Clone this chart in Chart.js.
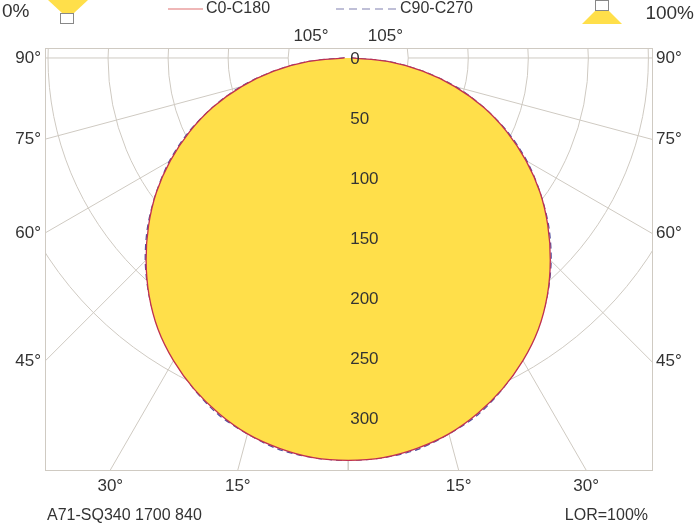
<!DOCTYPE html>
<html><head><meta charset="utf-8">
<script src="https://cdn.jsdelivr.net/npm/chart.js@4"></script>
<style>html,body{margin:0;padding:0;background:#fff}</style>
</head><body><canvas id="c" width="697" height="532"></canvas>
<script>
const angles=[0,5,10,15,20,25,30,35,40,45,50,55,60,65,70,75,80,85,90];
const c0c180=[335,334,330,324,315,304,291,276,258,238,217,195,171,146,120,92,63,33,3];
const c90c270=[335,334,331,324,316,304,290,275,258,239,218,195,172,147,120,93,63,33,3];
const rings=[0,50,100,150,200,250,300];
const rayAngles=[0,15,30,45,60,75,90,105];
const edgeLabelsLeft=[90,75,60,45];
const edgeLabelsBottom=[30,15];

function toXY(vals){
  const pts=[];
  for(let i=angles.length-1;i>=0;i--){const a=angles[i]*Math.PI/180;pts.push({x:-vals[i]*Math.sin(a),y:-vals[i]*Math.cos(a)});}
  for(let i=1;i<angles.length;i++){const a=angles[i]*Math.PI/180;pts.push({x:vals[i]*Math.sin(a),y:-vals[i]*Math.cos(a)});}
  return pts;
}
const F='Arial, "Liberation Sans", sans-serif';
const grid={id:'grid',beforeDatasetsDraw(ch){
  const {ctx,chartArea:ca,scales:{x,y}}=ch;
  const cx=x.getPixelForValue(0),cy=y.getPixelForValue(0),k=x.getPixelForValue(1)-cx;
  ctx.save();ctx.beginPath();ctx.rect(ca.left,ca.top,ca.right-ca.left,ca.bottom-ca.top);ctx.clip();
  ctx.strokeStyle='#cfcac2';ctx.lineWidth=1;
  rings.forEach(r=>{if(r>0){ctx.beginPath();ctx.arc(cx,cy,r*k,0,Math.PI*2);ctx.stroke();}});
  rayAngles.forEach(d=>{[1,-1].forEach(s=>{const a=d*Math.PI/180;ctx.beginPath();
    ctx.moveTo(cx+s*50*k*Math.sin(a),cy+50*k*Math.cos(a));ctx.lineTo(cx+s*2000*Math.sin(a),cy+2000*Math.cos(a));ctx.stroke();});});
  ctx.restore();
  ctx.strokeStyle='#cfcac2';ctx.strokeRect(ca.left+0.5,ca.top+0.5,ca.right-ca.left,ca.bottom-ca.top);
}};
const labels={id:'labels',afterDatasetsDraw(ch){
  const {ctx,chartArea:ca,scales:{x,y}}=ch;
  const cx=x.getPixelForValue(0),cy=y.getPixelForValue(0),k=x.getPixelForValue(1)-cx;
  ctx.save();ctx.font='17px '+F;ctx.fillStyle='#333';ctx.textBaseline='middle';
  rings.forEach(r=>{ctx.textAlign='left';ctx.fillText(String(r),cx+2,cy+r*k+1);});
  edgeLabelsLeft.forEach(d=>{const a=d*Math.PI/180;const dy=d==90?0:(cx-ca.left)/Math.tan(a);
    ctx.textAlign='right';ctx.fillText(d+'°',ca.left-4,cy+dy);ctx.textAlign='left';ctx.fillText(d+'°',ca.right+4,cy+dy);});
  edgeLabelsBottom.forEach(d=>{const dx=(ca.bottom-cy)*Math.tan(d*Math.PI/180);ctx.textAlign='center';
    ctx.fillText(d+'°',cx-dx,ca.bottom+16);ctx.fillText(d+'°',cx+dx,ca.bottom+16);});
  const dx=(cy-ca.top)/Math.tan(15*Math.PI/180);ctx.textAlign='center';
  ctx.fillText('105°',cx-dx,ca.top-12);ctx.fillText('105°',cx+dx,ca.top-12);
  ctx.font='19px '+F;ctx.textAlign='left';ctx.fillText('0%',2,12);ctx.textAlign='right';ctx.fillText('100%',694,14);
  ctx.font='16px '+F;ctx.textAlign='left';ctx.fillText('A71-SQ340 1700 840',47,516);ctx.textAlign='right';ctx.fillText('LOR=100%',648,516);
  ctx.textAlign='left';ctx.font='16px '+F;
  ctx.strokeStyle='#e07070';ctx.lineWidth=1.2;ctx.beginPath();ctx.moveTo(168,9);ctx.lineTo(203,9);ctx.stroke();ctx.fillText('C0-C180',206,9);
  ctx.strokeStyle='#8080b0';ctx.setLineDash([8,5]);ctx.beginPath();ctx.moveTo(336,9);ctx.lineTo(397,9);ctx.stroke();ctx.setLineDash([]);ctx.fillText('C90-C270',400,9);
  ctx.fillStyle='#ffdf4a';ctx.strokeStyle='#888';ctx.lineWidth=1;
  ctx.beginPath();ctx.moveTo(48,0);ctx.lineTo(88,0);ctx.lineTo(74,13);ctx.lineTo(62,13);ctx.closePath();ctx.fill();
  ctx.strokeRect(60.5,13.5,13,10);
  ctx.beginPath();ctx.moveTo(596,10);ctx.lineTo(608,10);ctx.lineTo(622,24);ctx.lineTo(582,24);ctx.closePath();ctx.fill();
  ctx.strokeRect(595.5,0.5,13,10);
  ctx.restore();
}};
new Chart(document.getElementById('c'),{type:'scatter',
  data:{datasets:[
    {label:'C0-C180',data:toXY(c0c180),showLine:true,borderColor:'#c03050',borderWidth:1.3,backgroundColor:'#ffdf4a',fill:'shape',pointRadius:0,tension:0.3},
    {label:'C90-C270',data:toXY(c90c270),showLine:true,borderColor:'#5050a0',borderWidth:1.3,borderDash:[6,4],pointRadius:0,fill:false,tension:0.3}]},
  options:{responsive:false,animation:false,devicePixelRatio:1,
    layout:{padding:{left:45,right:45,top:48,bottom:62}},
    plugins:{legend:{display:false},tooltip:{enabled:false}},
    scales:{x:{type:'linear',display:false,min:-252.5,max:253},y:{type:'linear',display:false,min:-343,max:8.3}}},
  plugins:[grid,labels]});
</script>
</body></html>
